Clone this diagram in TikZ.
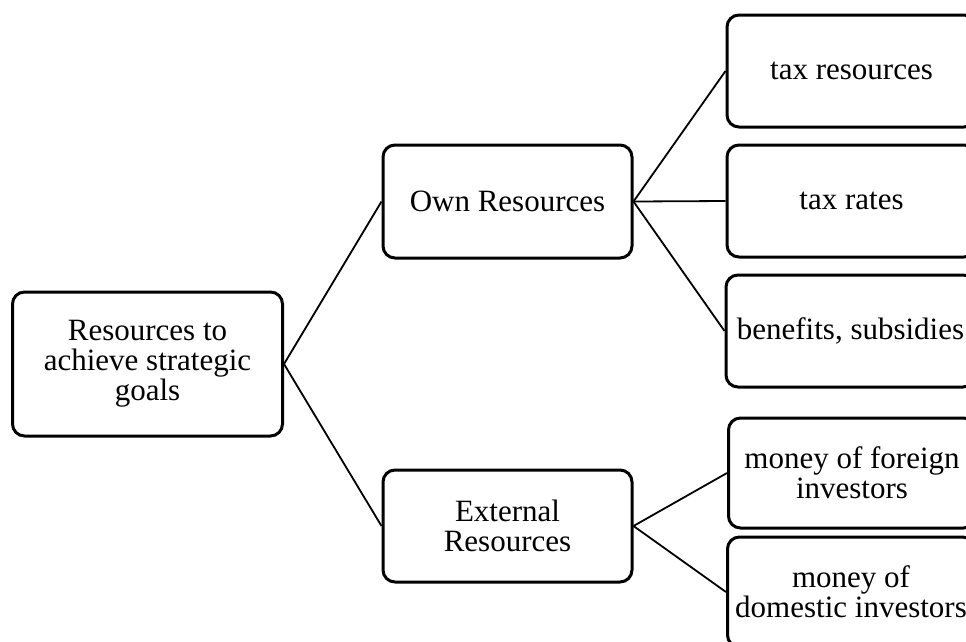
\documentclass[tikz,border=0pt]{standalone}
\usepackage{fontspec}
\setmainfont{Liberation Serif}
\begin{document}
\begin{tikzpicture}[x=1pt,y=-1pt,
  box/.style={draw=black, line width=3pt, rounded corners=12pt, fill=white,
    align=center, inner sep=0pt, font=\fontsize{31}{30}\selectfont},
  conn/.style={draw=black, line width=1.8pt}]
\useasboundingbox (0,0) rectangle (966,641);
\clip (0,0) rectangle (966,641);
\node[box, minimum width=270pt, minimum height=144pt] (root) at (147.5,364) {Resources to\\achieve strategic\\goals};
\node[box, minimum width=249pt, minimum height=113pt] (own) at (507.5,201.5) {Own Resources};
\node[box, minimum width=249pt, minimum height=112pt] (ext) at (507.5,526) {External\\Resources};
\node[box, minimum width=249pt, minimum height=112pt] (taxres) at (851.5,71) {tax resources};
\node[box, minimum width=249pt, minimum height=112pt] (taxrat) at (851.5,201) {tax rates};
\node[box, minimum width=249pt, minimum height=112pt] (ben) at (850.5,331) {benefits, subsidies};
\node[box, minimum width=247pt, minimum height=110pt] (for) at (852,473) {money of foreign\\investors};
\node[box, minimum width=247pt, minimum height=110pt] (dom) at (851,592) {money of\\domestic investors};
\draw[conn] (root.east) -- (own.west);
\draw[conn] (root.east) -- (ext.west);
\draw[conn] (own.east) -- (taxres.west);
\draw[conn] (own.east) -- (taxrat.west);
\draw[conn] (own.east) -- (ben.west);
\draw[conn] (ext.east) -- (for.west);
\draw[conn] (ext.east) -- (dom.west);
\end{tikzpicture}
\end{document}
